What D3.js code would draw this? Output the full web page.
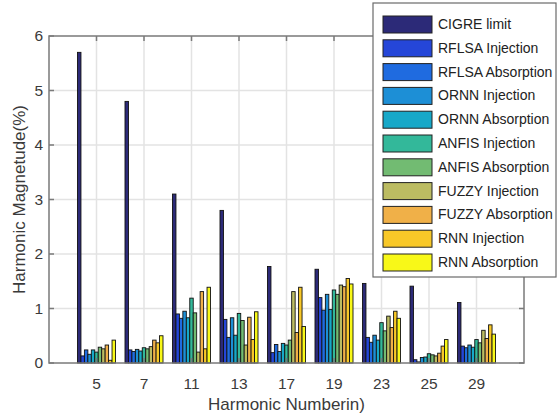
<!DOCTYPE html>
<html>
<head>
<meta charset="utf-8">
<script src="https://cdn.jsdelivr.net/npm/d3@7"></script>
<style>
  body { margin: 0; background: #fff; }
  svg { font-family: "Liberation Sans", Arial, sans-serif; }
  .grid line { stroke: #e3e3e3; stroke-width: 1.5; }
  .tick-label { fill: #3a3a3a; font-size: 15.5px; }
  .axis-title { fill: #3a3a3a; font-size: 17px; }
  .legend-text { fill: #222; font-size: 14px; }
</style>
</head>
<body>
<svg width="558" height="416"></svg>
<script>
const harmonics = ["5", "7", "11", "13", "17", "19", "23", "25", "29"]
const yTicks = [0, 1, 2, 3, 4, 5, 6]

const seriesNames = [
  "CIGRE limit", "RFLSA Injection", "RFLSA Absorption", "ORNN Injection", "ORNN Absorption",
  "ANFIS Injection", "ANFIS Absorption", "FUZZY Injection", "FUZZY Absorption",
  "RNN Injection", "RNN Absorption"
]
const seriesColors = [
  "#2c2a78", "#2546d8", "#1f6be0", "#1d8fd6", "#17a8c8",
  "#33b89a", "#72bb72", "#bcbc62", "#f0b048", "#f8c828", "#f8f818"
]

const cigre    = [5.7, 4.8, 3.1, 2.8, 1.77, 1.72, 1.46, 1.41, 1.11]
const rflsaInj = [0.13, 0.24, 0.9, 0.8, 0.19, 1.2, 0.47, 0.06, 0.31]
const rflsaAbs = [0.24, 0.21, 0.82, 0.47, 0.34, 0.97, 0.38, 0.02, 0.28]
const ornnInj  = [0.16, 0.25, 0.95, 0.83, 0.21, 1.26, 0.51, 0.1, 0.33]
const ornnAbs  = [0.24, 0.22, 0.83, 0.51, 0.36, 0.98, 0.42, 0.11, 0.29]
const anfisInj = [0.2, 0.28, 1.19, 0.91, 0.33, 1.34, 0.74, 0.17, 0.43]
const anfisAbs = [0.29, 0.26, 0.92, 0.78, 0.42, 1.26, 0.59, 0.15, 0.37]
const fuzzyInj = [0.26, 0.3, 0.2, 0.33, 1.31, 1.43, 0.86, 0.13, 0.6]
const fuzzyAbs = [0.33, 0.42, 1.31, 0.84, 0.56, 1.4, 0.65, 0.18, 0.45]
const rnnInj   = [0.05, 0.37, 0.26, 0.43, 1.39, 1.55, 0.95, 0.31, 0.7]
const rnnAbs   = [0.42, 0.5, 1.39, 0.94, 0.67, 1.45, 0.82, 0.43, 0.53]

const seriesValues = [cigre, rflsaInj, rflsaAbs, ornnInj, ornnAbs, anfisInj, anfisAbs,
  fuzzyInj, fuzzyAbs, rnnInj, rnnAbs]

const svg = d3.select("svg")

const plotLeft = 49, plotRight = 524, plotTop = 36, plotBottom = 363

// category i sits at position i + 1, axis runs 0..10 like matlab
const x = d3.scaleLinear()
    .domain([0, harmonics.length + 1])
    .range([plotLeft, plotRight])

const y = d3.scaleLinear()
    .domain([0, 6])
    .range([plotBottom, plotTop])

const groupWidth = 0.8
const slot = d3.scaleBand()
    .domain(d3.range(seriesNames.length))
    .range([-groupWidth / 2, groupWidth / 2])
    .padding(0)

// grid
const grid = svg.append("g").attr("class", "grid")

grid.selectAll("line.v")
    .data(harmonics)
    .enter()
    .append("line")
    .attr("class", "v")
    .attr("x1", (d, i) => x(i + 1))
    .attr("x2", (d, i) => x(i + 1))
    .attr("y1", plotTop)
    .attr("y2", plotBottom)

grid.selectAll("line.h")
    .data(yTicks.slice(1, -1))
    .enter()
    .append("line")
    .attr("class", "h")
    .attr("x1", plotLeft)
    .attr("x2", plotRight)
    .attr("y1", d => y(d))
    .attr("y2", d => y(d))

// bars
const series = svg
    .selectAll("g.series")
    .data(seriesValues)
    .enter()
    .append("g")
    .attr("class", "series")
    .attr("fill", (d, s) => seriesColors[s])

series.each(function(values, s) {
  d3.select(this)
    .selectAll("rect")
    .data(values)
    .enter()
    .append("rect")
    .attr("x", (d, i) => x(i + 1 + slot(s)))
    .attr("width", x(slot.bandwidth()) - x(0))
    .attr("y", d => y(d))
    .attr("height", d => y(0) - y(d))
    .attr("stroke", "#111")
    .attr("stroke-width", 0.9)
})

// axes box with inward ticks
const axis = svg.append("g")
    .attr("stroke", "#7a7a7a")
    .attr("stroke-width", 1.5)
    .attr("fill", "none")

axis.append("rect")
    .attr("x", plotLeft)
    .attr("y", plotTop)
    .attr("width", plotRight - plotLeft)
    .attr("height", plotBottom - plotTop)

harmonics.forEach((h, i) => {
  axis.append("line").attr("x1", x(i + 1)).attr("x2", x(i + 1)).attr("y1", plotBottom).attr("y2", plotBottom - 5)
  axis.append("line").attr("x1", x(i + 1)).attr("x2", x(i + 1)).attr("y1", plotTop).attr("y2", plotTop + 5)
})
yTicks.forEach(t => {
  axis.append("line").attr("x1", plotLeft).attr("x2", plotLeft + 5).attr("y1", y(t)).attr("y2", y(t))
  axis.append("line").attr("x1", plotRight).attr("x2", plotRight - 5).attr("y1", y(t)).attr("y2", y(t))
})

svg.selectAll("text.xtick")
    .data(harmonics)
    .enter()
    .append("text")
    .attr("class", "tick-label xtick")
    .attr("x", (d, i) => x(i + 1))
    .attr("y", 389)
    .attr("text-anchor", "middle")
    .text(d => d)

svg.selectAll("text.ytick")
    .data(yTicks)
    .enter()
    .append("text")
    .attr("class", "tick-label ytick")
    .attr("x", plotLeft - 6)
    .attr("y", d => y(d) + 5)
    .attr("text-anchor", "end")
    .text(d => d)

svg.append("text")
    .attr("class", "axis-title")
    .attr("x", (plotLeft + plotRight) / 2)
    .attr("y", 410)
    .attr("text-anchor", "middle")
    .text("Harmonic Numberin)")

svg.append("text")
    .attr("class", "axis-title")
    .attr("transform", `translate(25, ${(plotTop + plotBottom) / 2}) rotate(-90)`)
    .attr("text-anchor", "middle")
    .text("Harmonic Magnetude(%)")

// legend
const legend = svg.append("g").attr("transform", "translate(373, 3)")

legend.append("rect")
    .attr("width", 183)
    .attr("height", 274)
    .attr("fill", "#fff")
    .attr("stroke", "#6a6a6a")
    .attr("stroke-width", 1.2)

const items = legend
    .selectAll("g.item")
    .data(seriesNames)
    .enter()
    .append("g")
    .attr("class", "item")
    .attr("transform", (d, i) => `translate(0, ${21 + i * 23.8})`)

items.append("rect")
    .attr("x", 10)
    .attr("y", -8)
    .attr("width", 49)
    .attr("height", 17)
    .attr("fill", (d, i) => seriesColors[i])
    .attr("stroke", "#222")
    .attr("stroke-width", 1)

items.append("text")
    .attr("class", "legend-text")
    .attr("x", 65)
    .attr("y", 5)
    .text(d => d)
</script>
</body>
</html>
